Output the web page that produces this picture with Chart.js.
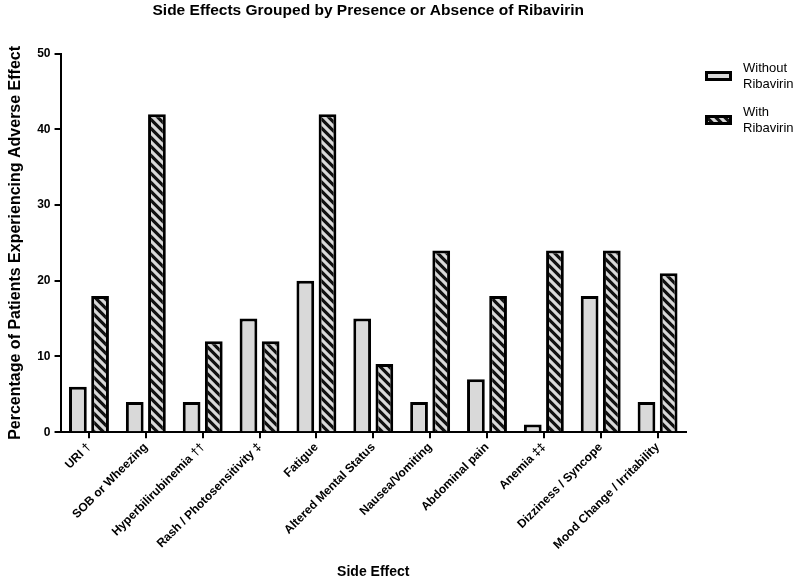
<!DOCTYPE html>
<html>
<head>
<title>Side Effects Grouped by Presence or Absence of Ribavirin</title>
<style>
  body { margin: 0; background: #fff; }
  #wrap { width: 797px; height: 582px; }
</style>
</head>
<body>
<div id="wrap">
  <canvas id="myChart" width="797" height="582"></canvas>
</div>

<script src="https://cdn.jsdelivr.net/npm/chart.js"></script>
<script>
const categories = ['URI \u2020', 'SOB or Wheezing', 'Hyperbilirubinemia \u2020\u2020', 'Rash / Photosensitivity \u2021',
  'Fatigue', 'Altered Mental Status', 'Nausea/Vomiting', 'Abdominal pain', 'Anemia \u2021\u2021',
  'Dizziness / Syncope', 'Mood Change / Irritability'];
const withoutRibavirin = [6, 4, 4, 15, 20, 15, 4, 7, 1, 18, 4];
const withRibavirin = [18, 42, 12, 12, 42, 9, 24, 18, 24, 24, 21];
const seriesNames = [['Without', 'Ribavirin'], ['With', 'Ribavirin']];
const yTicks = [0, 10, 20, 30, 40, 50];

const font = 'Arial, "Liberation Sans", sans-serif';
const grey = '#d9d9d9';

// diagonal hatch: grey stripes on black
function hatch() {
  const s = 9;
  const c = document.createElement('canvas');
  c.width = s; c.height = s;
  const g = c.getContext('2d');
  g.fillStyle = '#111';
  g.fillRect(0, 0, s, s);
  g.strokeStyle = grey;
  g.lineWidth = 3.2;
  g.beginPath();
  for (let k = -1; k <= 1; k++) {
    g.moveTo(k * s - 2, -2);
    g.lineTo(k * s + s + 2, s + 2);
  }
  g.stroke();
  return g.createPattern(c, 'repeat');
}
const hatchFill = hatch();

// two-line legend on the right
const sideLegend = {
  id: 'sideLegend',
  afterDraw(chart) {
    const ctx = chart.ctx;
    const ds = chart.data.datasets;
    const rows = [72, 116];
    ctx.save();
    ds.forEach((d, i) => {
      const y = rows[i];
      ctx.fillStyle = d.backgroundColor;
      ctx.fillRect(706, y, 25, 8);
      ctx.lineWidth = 3;
      ctx.strokeStyle = '#000';
      ctx.strokeRect(706.5, y + 0.5, 24, 7);
      ctx.fillStyle = '#000';
      ctx.font = '13px ' + font;
      ctx.textBaseline = 'middle';
      ctx.textAlign = 'left';
      ctx.fillText(seriesNames[i][0], 743, y - 4);
      ctx.fillText(seriesNames[i][1], 743, y + 12);
    });
    ctx.restore();
  }
};

// center the title over the plot instead of the whole canvas
const titleOverPlot = {
  id: 'titleOverPlot',
  afterLayout(chart) {
    const t = chart.titleBlock;
    if (!t) return;
    t.left = chart.chartArea.left - 10;
    t.right = chart.chartArea.right;
    t.width = t.right - t.left;
  }
};

const data = {
  labels: categories,
  datasets: [{
    label: 'Without Ribavirin',
    data: withoutRibavirin,
    backgroundColor: grey,
    borderColor: '#000',
    borderWidth: 3
  }, {
    label: 'With Ribavirin',
    data: withRibavirin,
    backgroundColor: hatchFill,
    borderColor: '#000',
    borderWidth: 3
  }]
};

const config = {
  type: 'bar',
  data: data,
  options: {
    responsive: false,
    animation: false,
    categoryPercentage: 0.78,
    barPercentage: 0.8,
    layout: { padding: { left: 2, right: 111, top: 0, bottom: 4 } },
    plugins: {
      legend: { display: false },
      tooltip: { enabled: false },
      title: {
        display: true,
        text: 'Side Effects Grouped by Presence or Absence of Ribavirin',
        color: '#000',
        font: { family: font, size: 15.5, weight: 'bold' },
        padding: { top: 1, bottom: 34 }
      }
    },
    scales: {
      x: {
        grid: { display: true, drawOnChartArea: false, drawTicks: true, offset: false, tickLength: 6, color: '#000', lineWidth: 2 },
        border: { display: true, color: '#000', width: 2 },
        ticks: { color: '#000', font: { family: font, size: 12, weight: 'bold' }, maxRotation: 45, minRotation: 45, autoSkip: false, padding: 2 },
        title: { display: true, text: 'Side Effect', color: '#000', font: { family: font, size: 14, weight: 'bold' }, padding: { top: 10, bottom: -3 } }
      },
      y: {
        min: 0,
        max: 50,
        afterBuildTicks: axis => { axis.ticks = yTicks.map(v => ({ value: v })); },
        grid: { display: true, drawOnChartArea: false, drawTicks: true, tickLength: 6, color: '#000', lineWidth: 2 },
        border: { display: true, color: '#000', width: 2 },
        ticks: { color: '#000', font: { family: font, size: 12, weight: 'bold' }, padding: 4 },
        title: { display: true, text: 'Percentage of Patients Experiencing Adverse Effect', color: '#000', font: { family: font, size: 16, weight: 'bold' }, padding: { bottom: 8 } }
      }
    }
  },
  plugins: [sideLegend, titleOverPlot]
};

const myChart = new Chart(document.getElementById('myChart'), config);
</script>
</body>
</html>
